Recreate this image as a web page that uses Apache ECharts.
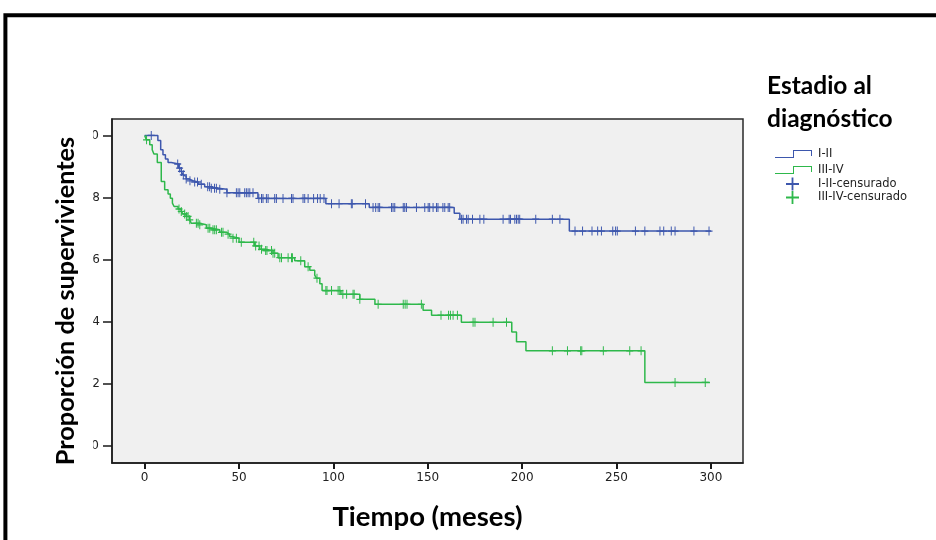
<!DOCTYPE html>
<html>
<head>
<meta charset="utf-8">
<script src="https://cdn.jsdelivr.net/npm/echarts@6/dist/echarts.min.js"></script>
<style>html,body{margin:0;padding:0;background:#fff}#c{width:936px;height:540px}</style>
</head>
<body>
<div id="c"></div>
<script>
// Kaplan-Meier step curves: time of each drop (months) and survival after it
const blueTimes = [0, 7, 8.5, 9.7, 11, 12.4, 14.1, 18, 19.4, 20.3, 20.8, 22, 23.5, 25.6, 28.3, 31.8, 35, 38.9, 43.6, 60, 96, 119, 164, 167, 225, 300];
const blueSurv  = [1.0, 0.984, 0.954, 0.938, 0.924, 0.913, 0.908, 0.895, 0.884, 0.873, 0.868, 0.86, 0.854, 0.85, 0.843, 0.835, 0.83, 0.827, 0.815, 0.797, 0.78, 0.768, 0.749, 0.73, 0.692, 0.692];
const greenTimes = [0, 0.9, 2.7, 4, 4.9, 6.7, 8.8, 10.6, 12.4, 13.6, 14.7, 15.6, 17.7, 19.4, 20.3, 22, 23.9, 24.7, 29, 32.7, 35.3, 39.8, 43.3, 45, 46.8, 50, 58.3, 61, 63.6, 68, 70.7, 79.5, 84.8, 87.5, 90.1, 91, 92.8, 94, 104, 114, 122, 147.5, 152, 167.8, 194.5, 197, 202, 265, 299.5];
const greenSurv  = [1.0, 0.986, 0.97, 0.954, 0.94, 0.913, 0.852, 0.825, 0.811, 0.798, 0.782, 0.771, 0.763, 0.755, 0.747, 0.739, 0.728, 0.717, 0.712, 0.701, 0.696, 0.688, 0.682, 0.674, 0.669, 0.656, 0.644, 0.633, 0.629, 0.62, 0.606, 0.596, 0.577, 0.566, 0.55, 0.54, 0.522, 0.5, 0.488, 0.472, 0.456, 0.437, 0.421, 0.398, 0.367, 0.335, 0.306, 0.204, 0.204];
// censored observation times (months)
const blueCensored = [3.5, 17.5, 18.5, 19.5, 20.5, 22, 24, 26.5, 28, 30, 33.4, 34.4, 35.3, 37, 38, 39.8, 43.6, 48.6, 49.5, 50.4, 53, 53.9, 54.8, 55.7, 57.4, 60.5, 61.9, 62.7, 64.5, 65.4, 68.9, 69.8, 73.3, 77.8, 78.6, 83.9, 84.8, 86.6, 89.5, 91.6, 93, 95, 99, 103, 109.5, 110, 117, 121, 122.4, 123.7, 124.5, 130.8, 131.6, 132.5, 137, 137.8, 138.7, 144, 148.4, 150.2, 151, 152.8, 154.6, 155.4, 158, 159, 160.8, 161.6, 167.9, 168.7, 170.5, 171.4, 173.7, 177.6, 179.7, 189.9, 193.1, 193.8, 196.1, 197, 197.9, 198.7, 207.2, 216, 220, 228, 232, 237, 240, 242, 248, 249.5, 250.4, 260, 265, 273, 275, 279, 281, 291, 299];
const greenCensored = [1, 18.2, 19.4, 21.2, 22.1, 23, 23.9, 27.4, 28.3, 29.2, 33.6, 34.5, 36.2, 37.1, 38, 40.7, 41.5, 44.2, 46.8, 48.6, 51.2, 57.8, 58.8, 60.6, 61.9, 64.1, 64.8, 67.2, 68, 68.9, 71.6, 72.5, 76, 77.8, 78.3, 82.7, 86.6, 91.3, 96, 96.6, 99, 102.5, 103.4, 105, 107, 110.4, 111, 114, 123.7, 137, 138, 139, 146.6, 157, 161, 162, 163.4, 165.7, 174, 175, 184.6, 191.7, 216, 224, 231, 231.6, 243, 257, 263, 281, 297];
const seriesNames = ['I-II', 'III-IV', 'I-II-censurado', 'III-IV-censurado'];
const xTicks = [0, 50, 100, 150, 200, 250, 300];
const yTicks = [0, 0.2, 0.4, 0.6, 0.8, 1.0];
const yTickLabels = ['0', '2', '4', '6', '8', '0'];

const BLUE = '#3d57ad', GREEN = '#2eb84b';
function pairs(t, s) { return t.map((v, i) => [v, s[i]]); }
function survAt(t, times, surv) {
  let v = surv[0];
  for (let i = 0; i < times.length; i++) { if (times[i] <= t) v = surv[i]; }
  return v;
}
const plusPath = 'path://M4.3,0H5.7V4.3H10V5.7H5.7V10H4.3V5.7H0V4.3H4.3Z';
const stepPath = 'path://M0,7H18V0H37V6H36V1H19V8H0Z';

const chart = echarts.init(document.getElementById('c'), null, { renderer: 'canvas' });
chart.setOption({
  backgroundColor: '#ffffff',
  animation: false,
  title: {
    text: 'Estadio al\ndiagnóstico',
    left: 767, top: 70, padding: 0,
    textStyle: { fontFamily: 'Lato', fontWeight: 'bold', fontSize: 24.5, lineHeight: 32.5, color: '#000' }
  },
  legend: [{
    data: [{ name: seriesNames[0], icon: stepPath }, { name: seriesNames[1], icon: stepPath }],
    orient: 'vertical', left: 775, top: 147.5, padding: 0, itemWidth: 37, itemHeight: 8, itemGap: 3,
    itemStyle: { borderWidth: 0 },
    textStyle: { fontFamily: 'DejaVu Sans', fontSize: 11.5, lineHeight: 13, color: '#222', padding: [0, 0, 0, 1] },
    selectedMode: false
  }, {
    data: [{ name: seriesNames[2], icon: plusPath }, { name: seriesNames[3], icon: plusPath }],
    orient: 'vertical', left: 786, top: 177.5, padding: 0, itemWidth: 13, itemHeight: 13, itemGap: 0.5,
    itemStyle: { borderWidth: 0 },
    textStyle: { fontFamily: 'DejaVu Sans', fontSize: 11.5, lineHeight: 13, color: '#222', padding: [0, 0, 0, 14] },
    selectedMode: false
  }],
  grid: {
    left: 112, right: 193, top: 119, bottom: 77,
    show: true, backgroundColor: '#f0f0f0', borderColor: '#2a2a2a', borderWidth: 1.5
  },
  xAxis: {
    type: 'value', min: -17.3, max: 317,
    name: 'Tiempo (meses)', nameLocation: 'middle', nameGap: 40,
    nameTextStyle: { fontFamily: 'Lato', fontWeight: 'bold', fontSize: 27.5, color: '#000' },
    axisLine: { show: true, onZero: false, lineStyle: { color: '#1a1a1a', width: 1.5 } },
    axisTick: { show: true, customValues: xTicks, length: 6, lineStyle: { color: '#1a1a1a', width: 2 } },
    axisLabel: { customValues: xTicks, margin: 9, fontFamily: 'DejaVu Sans', fontSize: 12, color: '#222' },
    splitLine: { show: false }
  },
  yAxis: {
    type: 'value', min: -0.0555, max: 1.053,
    name: 'Proporción de supervivientes', nameLocation: 'middle', nameGap: 34, nameRotate: 90,
    nameTextStyle: { fontFamily: 'Lato', fontWeight: 'bold', fontSize: 25.3, color: '#000', padding: [0, 20, 0, 0] },
    axisLine: { show: true, onZero: false, lineStyle: { color: '#1a1a1a', width: 1.5 } },
    axisTick: { show: true, customValues: yTicks, length: 9, lineStyle: { color: '#1a1a1a', width: 1.5 } },
    axisLabel: {
      customValues: yTicks, margin: 12, fontFamily: 'DejaVu Sans', fontSize: 12, color: '#222',
      formatter: function (v) {
        const i = yTicks.findIndex(t => Math.abs(t - v) < 1e-6);
        const s = i >= 0 ? yTickLabels[i] : '';
        return s === '0' ? '{z|0}' : s;
      },
      rich: { z: { fontFamily: 'DejaVu Sans', fontSize: 12, color: '#222', padding: [0, 1, 0, 0] } }
    },
    splitLine: { show: false }
  },
  graphic: [
    { type: 'rect', shape: { x: 80, y: 118, width: 13.2, height: 345 }, style: { fill: '#ffffff' }, z: 100, silent: true },
    { type: 'polyline', shape: { points: [[5.4, 560], [5.4, 15.3], [960, 15.3]] }, style: { stroke: '#000', lineWidth: 4, fill: null }, z: 100, silent: true }
  ],
  series: [
    {
      name: seriesNames[0], type: 'line', step: 'end', showSymbol: false, symbol: 'none',
      data: pairs(blueTimes, blueSurv), lineStyle: { color: BLUE, width: 1.5 }, itemStyle: { color: BLUE }, z: 2
    },
    {
      name: seriesNames[1], type: 'line', step: 'end', showSymbol: false, symbol: 'none',
      data: pairs(greenTimes, greenSurv), lineStyle: { color: GREEN, width: 1.5 }, itemStyle: { color: GREEN }, z: 2
    },
    {
      name: seriesNames[2], type: 'scatter', symbol: plusPath, symbolSize: [7, 9],
      data: blueCensored.map(t => [t, survAt(t, blueTimes, blueSurv)]), itemStyle: { color: BLUE, opacity: 1 }, z: 3
    },
    {
      name: seriesNames[3], type: 'scatter', symbol: plusPath, symbolSize: [7, 9],
      data: greenCensored.map(t => [t, survAt(t, greenTimes, greenSurv)]), itemStyle: { color: GREEN, opacity: 1 }, z: 3
    }
  ]
});
</script>
</body>
</html>
